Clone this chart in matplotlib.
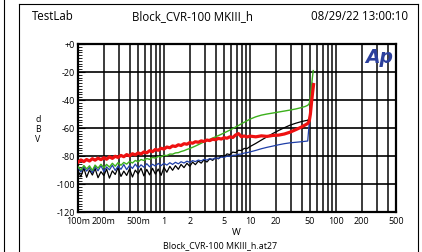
import numpy as np
import matplotlib
matplotlib.use("Agg")
from matplotlib import pyplot as plt
from matplotlib.lines import Line2D

# power sweep (W), shared by all four traces
watts = [0.100, 0.108, 0.117, 0.126, 0.136, 0.147, 0.158, 0.171, 0.185, 0.200,
         0.215, 0.232, 0.251, 0.271, 0.292, 0.316, 0.341, 0.368, 0.398, 0.430,
         0.464, 0.501, 0.541, 0.584, 0.631, 0.681, 0.736, 0.794, 0.858, 0.926,
         1.00, 1.08, 1.17, 1.26, 1.36, 1.47, 1.58, 1.71, 1.85, 2.00,
         2.15, 2.32, 2.51, 2.71, 2.92, 3.16, 3.41, 3.68, 3.98, 4.30,
         4.64, 5.01, 5.41, 5.84, 6.31, 6.81, 7.36, 7.94, 8.58, 9.26,
         10.0, 11.7, 13.6, 15.8, 18.5, 21.5, 25.1, 29.2, 34.1, 39.8,
         44.0, 47.0, 49.0]

red = [-84.5, -82.8, -84.0, -82.5, -83.6, -81.9, -83.0, -81.5, -82.6, -81.2,
       -82.3, -80.6, -81.7, -80.2, -81.0, -79.6, -80.5, -79.0, -79.9, -78.4,
       -79.2, -77.8, -78.6, -77.1, -77.7, -76.2, -76.9, -75.3, -75.9, -74.5,
       -75.0, -73.6, -74.1, -72.8, -73.2, -72.0, -72.5, -71.2, -71.6, -70.4,
       -70.9, -69.8, -70.2, -69.2, -69.6, -68.6, -69.0, -68.0, -68.4, -67.4,
       -67.9, -66.9, -67.3, -66.3, -66.8, -65.0, -64.0, -66.2, -65.7, -66.4,
       -65.8, -66.3, -65.6, -66.0, -65.3, -65.1, -64.3, -63.0, -61.2, -59.3,
       -57.8, -56.8, -55.0]
red_tail_w = [50.5, 52.0, 53.5, 55.0]
red_tail = [-50.0, -42.0, -35.0, -29.0]

green = [-87.5, -90.0, -86.8, -89.2, -87.0, -90.3, -86.5, -88.7, -85.9, -88.4,
         -86.0, -87.9, -85.2, -87.3, -84.8, -86.6, -84.6, -85.8, -83.9, -85.0,
         -83.2, -84.1, -82.5, -83.2, -81.8, -82.4, -81.0, -81.5, -80.3, -80.6,
         -79.5, -79.7, -78.6, -78.7, -77.8, -77.6, -76.8, -76.2, -75.3, -74.6,
         -73.8, -72.9, -71.9, -70.9, -69.9, -69.0, -68.1, -67.2, -66.3, -65.4,
         -64.5, -63.5, -62.5, -61.5, -60.4, -59.3, -58.2, -57.0, -55.9, -54.8,
         -53.7, -52.0, -50.8, -50.0, -49.3, -48.6, -47.9, -47.2, -46.4, -45.4,
         -44.6, -43.8, -42.5]
green_tail_w = [50.5, 52.0, 53.5, 54.5]
green_tail = [-38.0, -30.0, -23.0, -19.0]

blue = [-88.0, -91.5, -87.6, -90.8, -88.2, -92.0, -87.4, -90.6, -86.9, -91.2,
        -87.8, -89.9, -86.6, -90.3, -87.2, -89.5, -86.1, -89.8, -86.7, -88.9,
        -85.8, -88.6, -86.3, -88.0, -85.5, -87.7, -85.9, -87.2, -85.3, -86.9,
        -85.2, -86.5, -84.8, -86.0, -84.5, -85.6, -84.1, -85.0, -83.7, -84.6,
        -83.3, -84.0, -82.9, -83.5, -82.4, -82.9, -81.9, -82.3, -81.4, -81.7,
        -80.8, -81.0, -80.1, -80.3, -79.5, -79.4, -78.8, -78.6, -77.9, -77.6,
        -77.1, -76.0, -74.8, -73.8, -72.9, -72.0, -71.2, -70.6, -70.2, -69.8,
        -69.5, -69.3, -56.0]
blue_tail_w = [50.5, 52.0, 53.5]
blue_tail = [-48.0, -38.0, -28.0]

black = [-90.5, -94.8, -88.6, -95.2, -90.0, -93.6, -88.9, -95.5, -91.2, -94.0,
         -89.3, -95.8, -90.6, -93.2, -88.4, -94.6, -90.8, -93.9, -89.2, -95.0,
         -90.1, -92.8, -88.7, -94.2, -89.6, -93.5, -88.8, -92.9, -89.3, -93.8,
         -88.2, -91.6, -87.4, -90.2, -86.9, -89.5, -86.0, -88.3, -85.2, -87.4,
         -84.3, -86.2, -83.6, -85.1, -82.8, -84.3, -82.0, -83.1, -81.2, -82.0,
         -79.8, -80.6, -78.5, -79.0, -77.2, -77.6, -75.9, -76.1, -74.6, -74.7,
         -73.3, -71.0, -68.6, -66.3, -63.9, -61.8, -59.8, -58.0, -56.6, -55.4,
         -54.8, -54.5, -53.0]
black_tail_w = [50.5, 52.0]
black_tail = [-48.0, -42.0]

xticks = [0.1, 0.2, 0.5, 1, 2, 5, 10, 20, 50, 100, 200, 500]
xticklabels = ['100m', '200m', '500m', '1', '2', '5', '10', '20', '50', '100', '200', '500']
yticks = [0, -20, -40, -60, -80, -100, -120]
yticklabels = ['+0', '-20', '-40', '-60', '-80', '-100', '-120']

plt.rcParams['font.family'] = ['Open Sans', 'DejaVu Sans']

fig = plt.figure(figsize=(4.22, 2.53), dpi=100)
ax = fig.add_axes([78/422, 1 - 213/253, 318/422, 168/253])

ax.set_xscale('log')
ax.set_xlim(0.1, 500)
ax.set_ylim(-120, 0)

# grid: every 1..9 per decade, every 20 dB
for dec in [0.1, 1, 10, 100]:
    for m in range(1, 10):
        v = dec * m
        if 0.1 < v < 500:
            ax.axvline(v, color='#1a1a1a', lw=1.2, zorder=1)
for y in yticks[1:-1]:
    ax.axhline(y, color='black', lw=1.2, zorder=1)

ax.plot(watts + black_tail_w, black + black_tail, color='black', lw=0.9, zorder=3)
ax.plot(watts + blue_tail_w, blue + blue_tail, color='#1f3fa8', lw=0.9, zorder=3)
ax.plot(watts + green_tail_w, green + green_tail, color='#3cb01c', lw=1.0, zorder=4)
ax.plot(watts + red_tail_w, red + red_tail, color='#ee1111', lw=2.3, zorder=5)

ax.set_xticks(xticks)
ax.set_xticklabels(xticklabels)
ax.xaxis.set_minor_locator(matplotlib.ticker.NullLocator())
ax.tick_params(axis='x', length=0, pad=3, labelsize=6.5)
ax.set_yticks(yticks)
ax.set_yticklabels(yticklabels)
ax.set_yticks(np.arange(-120, 1, 2), minor=True)
ax.tick_params(axis='y', which='major', direction='in', length=5, width=0.8, pad=2, labelsize=6.5)
ax.tick_params(axis='y', which='minor', direction='in', length=3, width=0.6)
for s in ax.spines.values():
    s.set_linewidth(1.6)

ax.text(0.99, 0.985, 'Ap', transform=ax.transAxes, ha='right', va='top',
        fontsize=13.5, fontweight='heavy', fontstyle='italic', color='#2b3f9c',
        family='DejaVu Sans', zorder=6)

# header
fig.text(32/422, 1 - 17/253, 'TestLab', fontsize=8.3, va='center', ha='left')
fig.text(192/422, 1 - 17/253, 'Block_CVR-100 MKIII_h', fontsize=8.3, va='center', ha='center')
fig.text(408/422, 1 - 17/253, '08/29/22 13:00:10', fontsize=8.3, va='center', ha='right')

# stacked y label
for i, ch in enumerate(['d', 'B', 'V']):
    fig.text(38/422, 1 - (120 + 10*i)/253, ch, fontsize=6.3, ha='center', va='center')

fig.text(236/422, 1 - 233/253, 'W', fontsize=6.8, ha='center', va='center')
fig.text(220/422, 1 - 246/253, 'Block_CVR-100 MKIII_h.at27', fontsize=6.4, ha='center', va='center')

# page frame
fig.add_artist(Line2D([3.5/422, 3.5/422], [0, 1], color='black', lw=0.8))
fig.add_artist(Line2D([18.5/422, 18.5/422], [0, 1 - 5/253], color='black', lw=0.8))
fig.add_artist(Line2D([18.5/422, 418/422], [1 - 5/253, 1 - 5/253], color='black', lw=0.8))
fig.add_artist(Line2D([418/422, 418/422], [0, 1 - 5/253], color='black', lw=0.8))

fig.savefig('out.png', dpi=100)
